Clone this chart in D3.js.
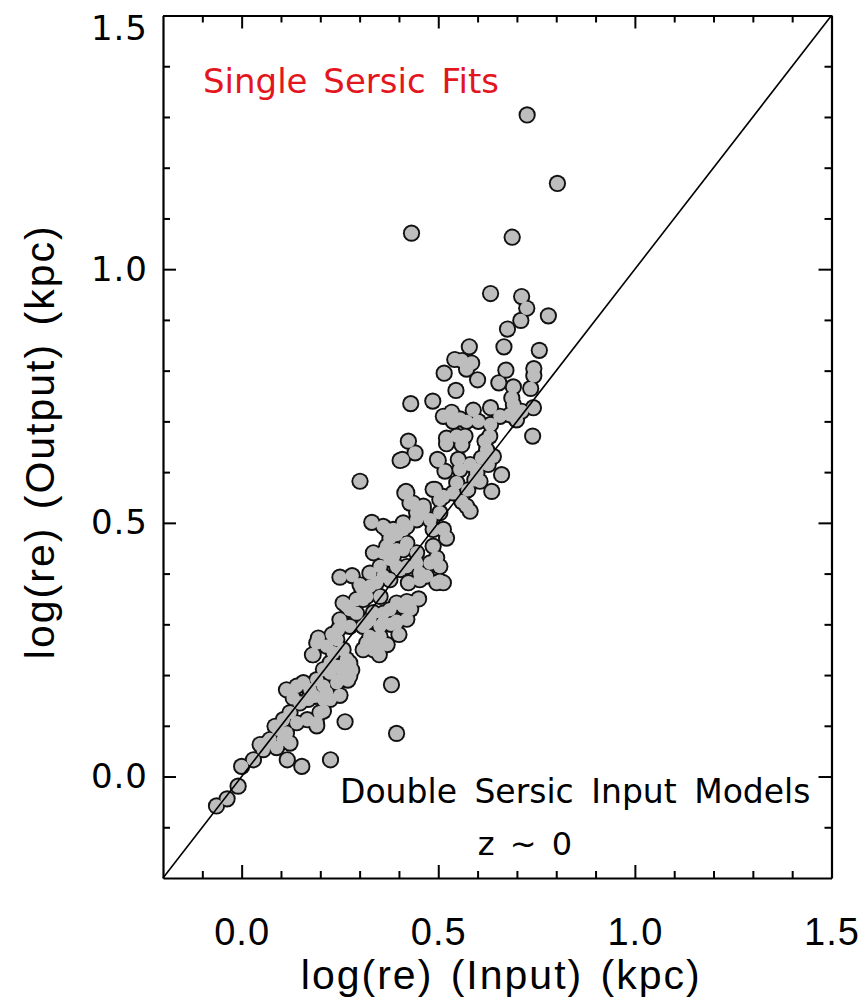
<!DOCTYPE html>
<html>
<head>
<meta charset="utf-8">
<script src="https://cdn.jsdelivr.net/npm/d3@7"></script>
<style>
  html, body { margin: 0; padding: 0; background: #fff; }
  svg { display: block; }
</style>
</head>
<body>
<svg id="chart" width="868" height="1000"></svg>
<script>
// ---- Data ----
const xInput = [
  0.726, 0.803, 0.432, 0.688, 0.633, 0.712, 0.725, 0.780, 0.710, 0.676,
  0.579, 0.667, 0.757, 0.542, 0.560, 0.585, 0.572, 0.515, 0.672, 0.743,
  0.743, 0.600, 0.654, 0.691, 0.735, 0.545, 0.430, 0.486, 0.687, 0.691,
  0.742, 0.740, 0.513, 0.534, 0.538, 0.555, 0.572, 0.589, 0.602, 0.633,
  0.633, 0.657, 0.682, 0.699, 0.712, 0.424, 0.441, 0.409, 0.521, 0.547,
  0.568, 0.521, 0.560, 0.619, 0.631, 0.623, 0.610, 0.640, 0.661, 0.636,
  0.498, 0.517, 0.551, 0.555, 0.581, 0.598, 0.593, 0.627, 0.606, 0.575,
  0.492, 0.504, 0.538, 0.560, 0.572, 0.581, 0.547, 0.598, 0.420, 0.428,
  0.462, 0.445, 0.479, 0.504, 0.513, 0.521, 0.487, 0.479, 0.504, 0.411,
  0.420, 0.445, 0.420, 0.453, 0.496, 0.424, 0.301, 0.418, 0.436, 0.462,
  0.487, 0.513, 0.331, 0.360, 0.386, 0.411, 0.445, 0.487, 0.377, 0.394,
  0.360, 0.335, 0.377, 0.352, 0.326, 0.360, 0.403, 0.445, 0.462, 0.496,
  0.250, 0.281, 0.301, 0.326, 0.403, 0.500, 0.415, 0.453, 0.369, 0.394,
  0.420, 0.470, 0.453, 0.504, 0.343, 0.377, 0.305, 0.369, 0.386, 0.411,
  0.394, 0.258, 0.292, 0.318, 0.352, 0.394, 0.420, 0.377, 0.394, 0.250,
  0.275, 0.318, 0.326, 0.352, 0.195, 0.267, 0.292, 0.309, 0.326, 0.318,
  0.335, 0.352, 0.360, 0.381, 0.394, 0.263, 0.226, 0.153, 0.116, 0.123,
  0.167, 0.191, 0.208, -0.064, -0.037, -0.009, 0.000, 0.030, 0.047, 0.055,
  0.064, 0.072, 0.089, 0.093, 0.106, 0.114, 0.085, 0.106, 0.123, 0.140,
  0.114, 0.131, 0.140, 0.157, 0.174, 0.169, 0.148, 0.186, 0.208, 0.225,
  0.191, 0.216, 0.242, 0.258, 0.275, 0.267, 0.242, 0.225, 0.208, 0.191,
  0.216, 0.233, 0.225, 0.208, 0.242, 0.258, 0.275, 0.246, 0.230, 0.275,
  0.309, 0.335, 0.360, 0.394, 0.411, 0.428, 0.352, 0.326, 0.309, 0.275,
  0.250, 0.370, 0.400, 0.420, 0.380, 0.350, 0.430, 0.450, 0.513, 0.182,
  0.260, 0.270, 0.250, 0.280, 0.199, 0.190, 0.180
];
const yOutput = [
  1.304, 1.169, 1.071, 1.063, 0.952, 0.946, 0.923, 0.908, 0.899, 0.882,
  0.847, 0.847, 0.840, 0.822, 0.820, 0.815, 0.803, 0.795, 0.801, 0.804,
  0.790, 0.782, 0.776, 0.768, 0.765, 0.761, 0.735, 0.740, 0.746, 0.733,
  0.727, 0.671, 0.710, 0.718, 0.700, 0.705, 0.700, 0.722, 0.700, 0.727,
  0.694, 0.710, 0.713, 0.703, 0.720, 0.661, 0.638, 0.625, 0.667, 0.671,
  0.671, 0.656, 0.654, 0.661, 0.671, 0.644, 0.628, 0.631, 0.595, 0.562,
  0.625, 0.602, 0.625, 0.605, 0.615, 0.605, 0.585, 0.615, 0.582, 0.565,
  0.566, 0.546, 0.559, 0.542, 0.533, 0.523, 0.579, 0.598, 0.559, 0.539,
  0.533, 0.520, 0.506, 0.520, 0.487, 0.470, 0.454, 0.421, 0.414, 0.487,
  0.460, 0.441, 0.414, 0.401, 0.382, 0.382, 0.582, 0.562, 0.539, 0.526,
  0.566, 0.552, 0.501, 0.493, 0.487, 0.500, 0.506, 0.487, 0.470, 0.447,
  0.441, 0.441, 0.428, 0.414, 0.401, 0.395, 0.408, 0.421, 0.395, 0.431,
  0.393, 0.396, 0.378, 0.375, 0.623, 0.623, 0.559, 0.516, 0.487, 0.477,
  0.493, 0.395, 0.388, 0.385, 0.382, 0.388, 0.372, 0.454, 0.434, 0.447,
  0.414, 0.342, 0.349, 0.355, 0.355, 0.342, 0.345, 0.329, 0.306, 0.309,
  0.296, 0.303, 0.276, 0.296, 0.273, 0.336, 0.322, 0.296, 0.309, 0.263,
  0.250, 0.276, 0.322, 0.181, 0.085, 0.108, 0.033, 0.020, 0.033, 0.066,
  0.112, 0.100, 0.129, -0.058, -0.044, -0.019, 0.020, 0.033, 0.063, 0.053,
  0.066, 0.073, 0.057, 0.093, 0.073, 0.086, 0.099, 0.112, 0.126, 0.106,
  0.171, 0.155, 0.178, 0.185, 0.171, 0.152, 0.145, 0.158, 0.152, 0.152,
  0.191, 0.165, 0.185, 0.204, 0.217, 0.231, 0.217, 0.204, 0.178, 0.263,
  0.257, 0.244, 0.224, 0.211, 0.270, 0.250, 0.198, 0.290, 0.280, 0.329,
  0.349, 0.323, 0.303, 0.303, 0.335, 0.343, 0.264, 0.264, 0.250, 0.224,
  0.191, 0.260, 0.280, 0.310, 0.300, 0.240, 0.330, 0.350, 0.382, 0.240,
  0.220, 0.190, 0.160, 0.210, 0.126, 0.106, 0.240
];
const majorTicks = [0.0, 0.5, 1.0, 1.5];
const minorTicks = [-0.1, 0.1, 0.2, 0.3, 0.4, 0.6, 0.7, 0.8, 0.9, 1.1, 1.2, 1.3, 1.4];
const axisDomain = [-0.2, 1.5];
const xTitle = "log(re) (Input) (kpc)";
const yTitle = "log(re) (Output) (kpc)";
const annotTop = "Single Sersic Fits";
const annotBottom = "Double Sersic Input Models";
const annotZ = "z ~ 0";

// ---- Layout ----
const L = 163, R = 831.5, T = 15.5, B = 878;
const svg = d3.select("#chart");
const x = d3.scaleLinear().domain(axisDomain).range([L, R]);
const y = d3.scaleLinear().domain(axisDomain).range([B, T]);

const pts = xInput.map((v, i) => ({ x: v, y: yOutput[i] }));

// points: outlines first, fills on top (merged blob look)
const gPts = svg.append("g");
gPts.selectAll("circle.o").data(pts).join("circle")
  .attr("class", "o")
  .attr("cx", d => x(d.x)).attr("cy", d => y(d.y))
  .attr("r", 8.6).attr("fill", "#111");
gPts.selectAll("circle.f").data(pts).join("circle")
  .attr("class", "f")
  .attr("cx", d => x(d.x)).attr("cy", d => y(d.y))
  .attr("r", 6.7).attr("fill", "#bdbdbd");

// one-to-one line
svg.append("line")
  .attr("x1", x(axisDomain[0])).attr("y1", y(axisDomain[0]))
  .attr("x2", x(axisDomain[1])).attr("y2", y(axisDomain[1]))
  .attr("stroke", "#000").attr("stroke-width", 1.6);

// ---- Axes ----
function styleAxis(g) {
  g.selectAll(".domain").attr("stroke", "#000").attr("stroke-width", 2.2);
  g.selectAll(".tick line").attr("stroke", "#000").attr("stroke-width", 2);
}
const fmt = d3.format(".1f");

// bottom
const gB = svg.append("g").attr("transform", `translate(0,${B})`)
  .call(d3.axisBottom(x).tickValues(majorTicks).tickSize(-13).tickSizeOuter(0)
    .tickPadding(40).tickFormat(fmt));
gB.call(styleAxis);
gB.selectAll("text").attr("font-family", "'Liberation Sans', Arial, sans-serif")
  .attr("font-size", 38).attr("fill", "#000").attr("letter-spacing", 1);
svg.append("g").attr("transform", `translate(0,${B})`)
  .call(d3.axisBottom(x).tickValues(minorTicks).tickSize(-7).tickSizeOuter(0).tickFormat(""))
  .call(styleAxis).select(".domain").remove();

// top
svg.append("g").attr("transform", `translate(0,${T})`)
  .call(d3.axisTop(x).tickValues(majorTicks).tickSize(-13).tickSizeOuter(0).tickFormat(""))
  .call(styleAxis);
svg.append("g").attr("transform", `translate(0,${T})`)
  .call(d3.axisTop(x).tickValues(minorTicks).tickSize(-7).tickSizeOuter(0).tickFormat(""))
  .call(styleAxis).select(".domain").remove();

// left
const gL = svg.append("g").attr("transform", `translate(${L},0)`)
  .call(d3.axisLeft(y).tickValues(majorTicks).tickSize(-13).tickSizeOuter(0)
    .tickPadding(15).tickFormat(fmt));
gL.call(styleAxis);
gL.selectAll("text").attr("font-family", "'DejaVu Sans', sans-serif")
  .attr("font-size", 34).attr("fill", "#000").attr("letter-spacing", 1);
// keep the top label inside the picture (as in the reference)
gL.selectAll(".tick").filter(d => d === axisDomain[1]).select("text").attr("dy", "0.72em");
svg.append("g").attr("transform", `translate(${L},0)`)
  .call(d3.axisLeft(y).tickValues(minorTicks).tickSize(-7).tickSizeOuter(0).tickFormat(""))
  .call(styleAxis).select(".domain").remove();

// right
svg.append("g").attr("transform", `translate(${R},0)`)
  .call(d3.axisRight(y).tickValues(majorTicks).tickSize(-13).tickSizeOuter(0).tickFormat(""))
  .call(styleAxis);
svg.append("g").attr("transform", `translate(${R},0)`)
  .call(d3.axisRight(y).tickValues(minorTicks).tickSize(-7).tickSizeOuter(0).tickFormat(""))
  .call(styleAxis).select(".domain").remove();

// ---- Titles ----
const cx = (L + R) / 2, cy = (T + B) / 2;
svg.append("text").text(xTitle)
  .attr("x", cx + 4).attr("y", 989)
  .attr("text-anchor", "middle")
  .attr("font-family", "'Liberation Sans', Arial, sans-serif")
  .attr("font-size", 41).attr("letter-spacing", 2).attr("word-spacing", 4).attr("fill", "#000");
svg.append("text").text(yTitle)
  .attr("transform", `translate(54,${cy - 5}) rotate(-90)`)
  .attr("text-anchor", "middle")
  .attr("font-family", "'Liberation Sans', Arial, sans-serif")
  .attr("font-size", 41).attr("letter-spacing", 2).attr("word-spacing", 4).attr("fill", "#000");

// ---- Annotations ----
svg.append("text").text(annotTop)
  .attr("x", 203).attr("y", 93)
  .attr("font-family", "'DejaVu Sans', sans-serif")
  .attr("font-size", 34).attr("word-spacing", 5).attr("fill", "#e3161e");
svg.append("text").text(annotBottom)
  .attr("x", 340).attr("y", 803)
  .attr("font-family", "'DejaVu Sans', sans-serif")
  .attr("font-size", 33).attr("word-spacing", 7).attr("fill", "#000");
svg.append("text").text(annotZ)
  .attr("x", 525).attr("y", 855).attr("text-anchor", "middle")
  .attr("font-family", "'DejaVu Sans', sans-serif")
  .attr("font-size", 32).attr("word-spacing", 5).attr("fill", "#000");
</script>
</body>
</html>
